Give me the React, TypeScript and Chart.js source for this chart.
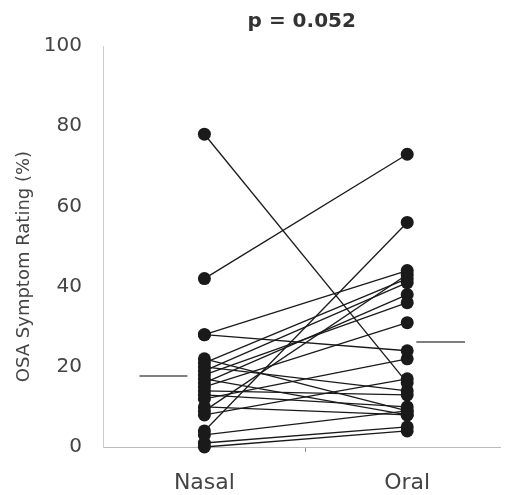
import React, { useEffect, useRef } from "react";
import { Chart, registerables } from "chart.js";

Chart.register(...registerables);

const CATEGORIES = ["Nasal", "Oral"];
const NASAL = [78, 42, 4, 28, 28, 22, 21, 20, 19, 18, 17, 16, 15, 14, 13, 12, 10, 9, 8, 3, 1, 0];
const ORAL = [16, 73, 56, 24, 44, 9, 42, 14, 41, 36, 8, 38, 31, 13, 10, 22, 8, 43, 17, 9, 5, 4];
const MEANS = [17.7, 26.2];
const Y_TICKS = [0, 20, 40, 60, 80, 100];
const TITLE = "p = 0.052";
const Y_TITLE = "OSA Symptom Rating (%)";

export default function App() {
  const ref = useRef<HTMLCanvasElement | null>(null);
  useEffect(() => {
    document.body.style.margin = "0";
    const ctx = ref.current!.getContext("2d")!;
    const font = "'DejaVu Sans', sans-serif";
    const pairSets = NASAL.map((n, i) => ({
      type: "line" as const,
      data: [
        { x: 1, y: n },
        { x: 2, y: ORAL[i] },
      ],
      borderColor: "#1a1a1a",
      borderWidth: 1.3,
      pointRadius: 6.5,
      pointBackgroundColor: "#1a1a1a",
      pointBorderColor: "#1a1a1a",
      pointBorderWidth: 0,
      clip: false as any,
    }));
    const meanSets = [
      { x0: 0.68, x1: 0.916, y: MEANS[0] },
      { x0: 2.045, x1: 2.285, y: MEANS[1] },
    ].map((m) => ({
      type: "line" as const,
      data: [
        { x: m.x0, y: m.y },
        { x: m.x1, y: m.y },
      ],
      borderColor: "#555",
      borderWidth: 1.6,
      pointRadius: 0,
    }));
    const chart = new Chart(ctx, {
      type: "line",
      data: { datasets: [...meanSets, ...pairSets] as any },
      options: {
        animation: false,
        responsive: false,
        layout: { padding: { top: 0, right: 0, bottom: 0, left: 0 } },
        plugins: {
          legend: { display: false },
          tooltip: { enabled: false },
          title: {
            display: true,
            fullSize: false,
            text: TITLE,
            color: "#333",
            font: { family: font, size: 20, weight: "bold" },
            padding: { top: 10, bottom: 12 },
          },
        },
        scales: {
          x: {
            type: "linear",
            min: 0.5,
            max: 2.46,
            afterBuildTicks: (s: any) => {
              s.ticks = [{ value: 1 }, { value: 1.5 }, { value: 2 }];
            },
            afterFit: (s: any) => {
              s.height = 48;
            },
            ticks: {
              autoSkip: false,
              maxRotation: 0,
              padding: 18,
              color: "#444",
              font: { family: font, size: 22 },
              callback: (v: any) => (v === 1 ? CATEGORIES[0] : v === 2 ? CATEGORIES[1] : ""),
            },
            grid: {
              drawOnChartArea: false,
              tickLength: 5,
              tickColor: (c: any) => (c.tick && c.tick.value === 1.5 ? "#999" : "rgba(0,0,0,0)"),
            },
            border: { color: "#bbb", dash: [1, 4], width: 1 },
          },
          y: {
            type: "linear",
            min: 0,
            max: 100,
            afterBuildTicks: (s: any) => {
              s.ticks = Y_TICKS.map((v) => ({ value: v }));
            },
            afterFit: (s: any) => {
              s.width = 103;
            },
            ticks: {
              padding: 21,
              color: "#444",
              font: { family: font, size: 20 },
            },
            grid: { display: false, drawTicks: false },
            border: { color: "#ccc", width: 1 },
            title: {
              display: true,
              text: Y_TITLE + "       ",
              color: "#444",
              font: { family: font, size: 18 },
              padding: { top: 14, bottom: 4 },
            },
          },
        },
      },
    });
    return () => chart.destroy();
  }, []);
  return (
    <div style={{ width: 507, height: 495 }}>
      <canvas ref={ref} width={507} height={495} />
    </div>
  );
}
